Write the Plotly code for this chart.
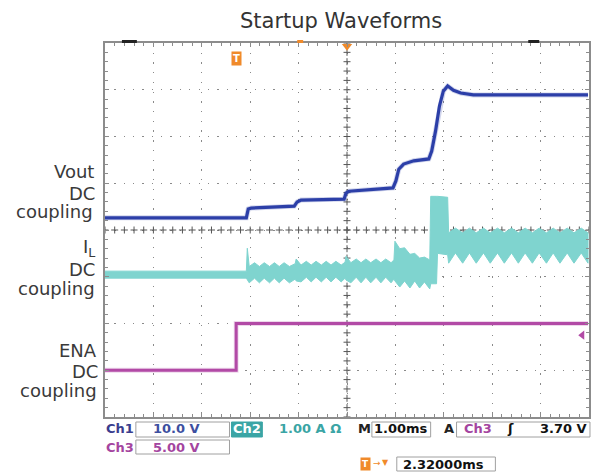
import plotly.graph_objects as go
import numpy as np

# ---------------- data (time in ms at 1 ms/div, vertical in screen divisions) -------------
VOUT_T = [0.00, 2.92, 2.96, 3.02, 3.91, 3.97, 4.05, 4.94, 4.98, 5.04, 5.95, 6.01, 6.07,
          6.17, 6.38, 6.69, 6.75, 6.83, 6.91, 6.99, 7.08, 7.20, 7.35, 7.61, 9.98]
VOUT_DIV = [4.26, 4.26, 4.45, 4.47, 4.51, 4.60, 4.64, 4.66, 4.79, 4.83, 4.90, 5.05, 5.30,
            5.41, 5.48, 5.52, 5.69, 6.12, 6.65, 6.97, 7.08, 6.99, 6.93, 6.89, 6.89]

IL_T = [0.00, 2.92, 2.94,
        2.98, 3.09, 3.19, 3.29, 3.40, 3.50, 3.60, 3.70, 3.81, 3.93,
        3.95,
        4.05, 4.16, 4.26, 4.36, 4.47, 4.57, 4.67, 4.77, 4.88, 4.96,
        4.98,
        5.08, 5.19, 5.29, 5.39, 5.49, 5.60, 5.70, 5.80, 5.91, 5.97,
        5.99,
        6.09, 6.19, 6.30, 6.40, 6.50, 6.60, 6.71,
        6.73, 6.85, 6.87, 7.08,
        7.10, 7.24, 7.39, 7.53, 7.67, 7.82, 7.96, 8.11, 8.25, 8.40, 8.54,
        8.68, 8.83, 8.97, 9.12, 9.26, 9.40, 9.55, 9.69, 9.84, 9.98]
IL_LO = [2.97, 2.97, 2.93,
         2.87, 2.97, 2.87, 2.97, 2.87, 2.97, 2.87, 2.97, 2.87, 2.95,
         2.91,
         2.89, 2.99, 2.89, 2.99, 2.89, 2.99, 2.89, 2.99, 2.89, 2.97,
         2.93,
         2.87, 2.99, 2.87, 2.99, 2.87, 2.99, 2.87, 2.99, 2.87, 2.95,
         2.91,
         2.78, 2.91, 2.76, 2.91, 2.76, 2.89, 2.74,
         2.85, 2.85, 3.50, 3.47,
         3.29, 3.51, 3.29, 3.51, 3.29, 3.51, 3.29, 3.51, 3.29, 3.51, 3.29,
         3.51, 3.29, 3.51, 3.29, 3.51, 3.29, 3.51, 3.29, 3.51, 3.29]
IL_HI = [3.12, 3.12, 3.61,
         3.22, 3.30, 3.22, 3.30, 3.22, 3.30, 3.22, 3.30, 3.22, 3.28,
         3.38,
         3.25, 3.33, 3.25, 3.33, 3.25, 3.33, 3.25, 3.33, 3.25, 3.31,
         3.44,
         3.30, 3.38, 3.30, 3.38, 3.30, 3.38, 3.30, 3.38, 3.30, 3.36,
         3.76,
         3.60, 3.62, 3.48, 3.50, 3.40, 3.42, 3.36,
         4.72, 4.72, 4.72, 4.70,
         3.94, 4.04, 3.94, 4.04, 3.94, 4.04, 3.94, 4.04, 3.94, 4.04, 3.94,
         4.04, 3.94, 4.04, 3.94, 4.04, 3.94, 4.04, 3.94, 4.04, 3.94]

ENA_T = [0.00, 2.71, 2.71, 9.98]
ENA_DIV = [1.00, 1.00, 2.00, 2.00]

TRIG_LEVEL_DIV = 1.75   # Ch3 trigger level marker

LEFT_LABELS = [("Vout", 171, 96), ("DC", 193, 97), ("coupling", 211, 95),
               ("I<sub>L</sub>", 248, 97), ("DC", 269, 97), ("coupling", 288, 97),
               ("ENA", 350, 99), ("DC", 371, 100), ("coupling", 390, 99)]

TITLE = "Startup Waveforms"

BLUE = "#2C3FA8"
CYAN = "#7FD4CF"
MAG = "#B24AA6"
TEAL = "#3AA5A5"
ORANGE = "#F08A2A"
PURPLE = "#A445A0"

# ---------------- figure -------------
W, H = 600, 473
L, R, T, B = 105, 9, 43, 56
PW, PH = W - L - R, H - T - B


def px_x(px):
    return (px - L) / PW


def px_y(py):
    return (H - B - py) / PH


fig = go.Figure()

# centre crosshair ticks (graticule decoration)
cx = np.round(np.arange(0, 10.001, 0.2), 2)
cy = np.round(np.arange(0, 8.001, 0.2), 2)
fig.add_trace(go.Scatter(x=cx, y=[4] * len(cx), mode="markers", hoverinfo="skip",
                         marker=dict(symbol="cross-thin", size=5, line=dict(width=1, color="#555"))))
fig.add_trace(go.Scatter(x=[5] * len(cy), y=cy, mode="markers", hoverinfo="skip",
                         marker=dict(symbol="cross-thin", size=5, line=dict(width=1, color="#555"))))

# IL band
fig.add_trace(go.Scatter(x=IL_T + IL_T[::-1], y=IL_HI + IL_LO[::-1], mode="lines",
                         fill="toself", fillcolor=CYAN, line=dict(color=CYAN, width=1),
                         hoverinfo="skip"))

# Vout
fig.add_trace(go.Scatter(x=VOUT_T, y=VOUT_DIV, mode="lines",
                         line=dict(color="rgba(44,63,168,0.22)", width=5), hoverinfo="skip"))
fig.add_trace(go.Scatter(x=VOUT_T, y=VOUT_DIV, mode="lines",
                         line=dict(color=BLUE, width=3.2), hoverinfo="skip"))

# ENA
fig.add_trace(go.Scatter(x=ENA_T, y=ENA_DIV, mode="lines",
                         line=dict(color="rgba(178,74,166,0.22)", width=4.8), hoverinfo="skip"))
fig.add_trace(go.Scatter(x=ENA_T, y=ENA_DIV, mode="lines",
                         line=dict(color=MAG, width=3), hoverinfo="skip"))

# markers: trigger level, trigger position triangle
fig.add_trace(go.Scatter(x=[9.86], y=[TRIG_LEVEL_DIV], mode="markers", cliponaxis=False,
                         marker=dict(symbol="triangle-left", size=8, color=MAG), hoverinfo="skip"))
fig.add_trace(go.Scatter(x=[5.0], y=[7.93], mode="markers", cliponaxis=False,
                         marker=dict(symbol="triangle-down", size=9, color=ORANGE), hoverinfo="skip"))

axis_common = dict(showgrid=True, gridcolor="#8a8a8a", gridwidth=1.3, zeroline=False,
                   showline=True, linecolor="#8c8c8c", linewidth=1.5, mirror="ticks",
                   ticks="inside", ticklen=4, tickcolor="#8c8c8c", tickwidth=1,
                   showticklabels=False, fixedrange=True)
fig.update_xaxes(range=[0, 10], dtick=1, tick0=0, griddash="1.3px,8.42px",
                 minor=dict(ticks="inside", dtick=0.2, ticklen=3, tickcolor="#8c8c8c", showgrid=False),
                 **axis_common)
fig.update_yaxes(range=[0, 8], dtick=1, tick0=0, griddash="1.3px,8.05px",
                 minor=dict(ticks="inside", dtick=0.2, ticklen=3, tickcolor="#8c8c8c", showgrid=False),
                 **axis_common)

annotations = []
shapes = []

# title
annotations.append(dict(text=TITLE, x=px_x(342), y=px_y(21), xref="paper", yref="paper",
                        xanchor="center", yanchor="middle", showarrow=False,
                        font=dict(family="DejaVu Sans", size=21, color="#333333")))

# left labels
for t_, py, rx in LEFT_LABELS:
    annotations.append(dict(text=t_, x=px_x(rx), y=px_y(py), xref="paper", yref="paper",
                            xanchor="right", yanchor="middle", showarrow=False,
                            font=dict(family="DejaVu Sans", size=18, color="#3a3a3a")))

# orange trigger "T" icon on screen
annotations.append(dict(text="<b>T</b>", x=px_x(237), y=px_y(58), xref="paper", yref="paper",
                        xanchor="center", yanchor="middle", showarrow=False,
                        bgcolor=ORANGE, borderpad=1,
                        font=dict(family="DejaVu Sans", size=10, color="white")))

# top border decorations
shapes.append(dict(type="rect", xref="paper", yref="paper", x0=px_x(298), x1=px_x(304),
                   y0=px_y(43), y1=px_y(40), fillcolor=ORANGE, line=dict(width=0)))
shapes.append(dict(type="line", xref="paper", yref="paper", x0=px_x(122), x1=px_x(137),
                   y0=px_y(41.5), y1=px_y(41.5), line=dict(color="#222", width=3)))
shapes.append(dict(type="line", xref="paper", yref="paper", x0=px_x(530), x1=px_x(541),
                   y0=px_y(41.5), y1=px_y(41.5), line=dict(color="#222", width=3)))


# status bar
def txt(s, cx, cy, color="#111", anchor="center", size=13, bold=True):
    annotations.append(dict(text=("<b>%s</b>" % s) if bold else s, x=px_x(cx), y=px_y(cy),
                            xref="paper", yref="paper", xanchor=anchor, yanchor="middle",
                            showarrow=False,
                            font=dict(family="DejaVu Sans", size=size, color=color)))


def box(x0, x1, y0, y1, fill=None, color="#a0a0a0"):
    shapes.append(dict(type="rect", xref="paper", yref="paper", x0=px_x(x0), x1=px_x(x1),
                       y0=px_y(y1), y1=px_y(y0), fillcolor=fill or "rgba(0,0,0,0)",
                       line=dict(color=color, width=1)))


box(136, 230, 422, 437)
box(232, 263, 422, 437, fill=TEAL, color=TEAL)
box(373, 432, 422, 437)
box(458, 592, 422, 437)
box(136, 230, 440, 454)
box(398, 497, 457, 471)

txt("Ch1", 104, 429, color="#3A3D8E", anchor="left")
txt("10.0 V", 177, 429, color="#3D4FA0")
txt("Ch2", 247.5, 429, color="white")
txt("1.00 A \u03a9", 311, 429, color=TEAL)
txt("M", 366, 429, color="#222")
txt("1.00ms", 402, 429, color="#111")
txt("A", 450, 429, color="#222")
txt("Ch3", 480, 429, color=PURPLE)
txt("\u0283", 512, 429, color="#111")
txt("3.70 V", 591, 429, color="#111", anchor="right")

txt("Ch3", 104, 447, color=PURPLE, anchor="left")
txt("5.00 V", 177, 447, color=PURPLE)

annotations.append(dict(text="<b>T</b>", x=px_x(367), y=px_y(464), xref="paper", yref="paper",
                        xanchor="center", yanchor="middle", showarrow=False,
                        bgcolor=ORANGE, borderpad=1,
                        font=dict(family="DejaVu Sans", size=9, color="white")))
txt("\u2192", 378, 463, color=ORANGE, size=9, bold=False)
txt("\u25bc", 387, 462, color=ORANGE, size=8, bold=False)
txt("2.32000ms", 445, 464, color="#111")

fig.update_layout(width=W, height=H, margin=dict(l=L, r=R, t=T, b=B, pad=0),
                  paper_bgcolor="white", plot_bgcolor="white", showlegend=False,
                  annotations=annotations, shapes=shapes)

fig.write_html("out.html", config={"displayModeBar": False},
               post_script="document.body.style.margin='0px';")
